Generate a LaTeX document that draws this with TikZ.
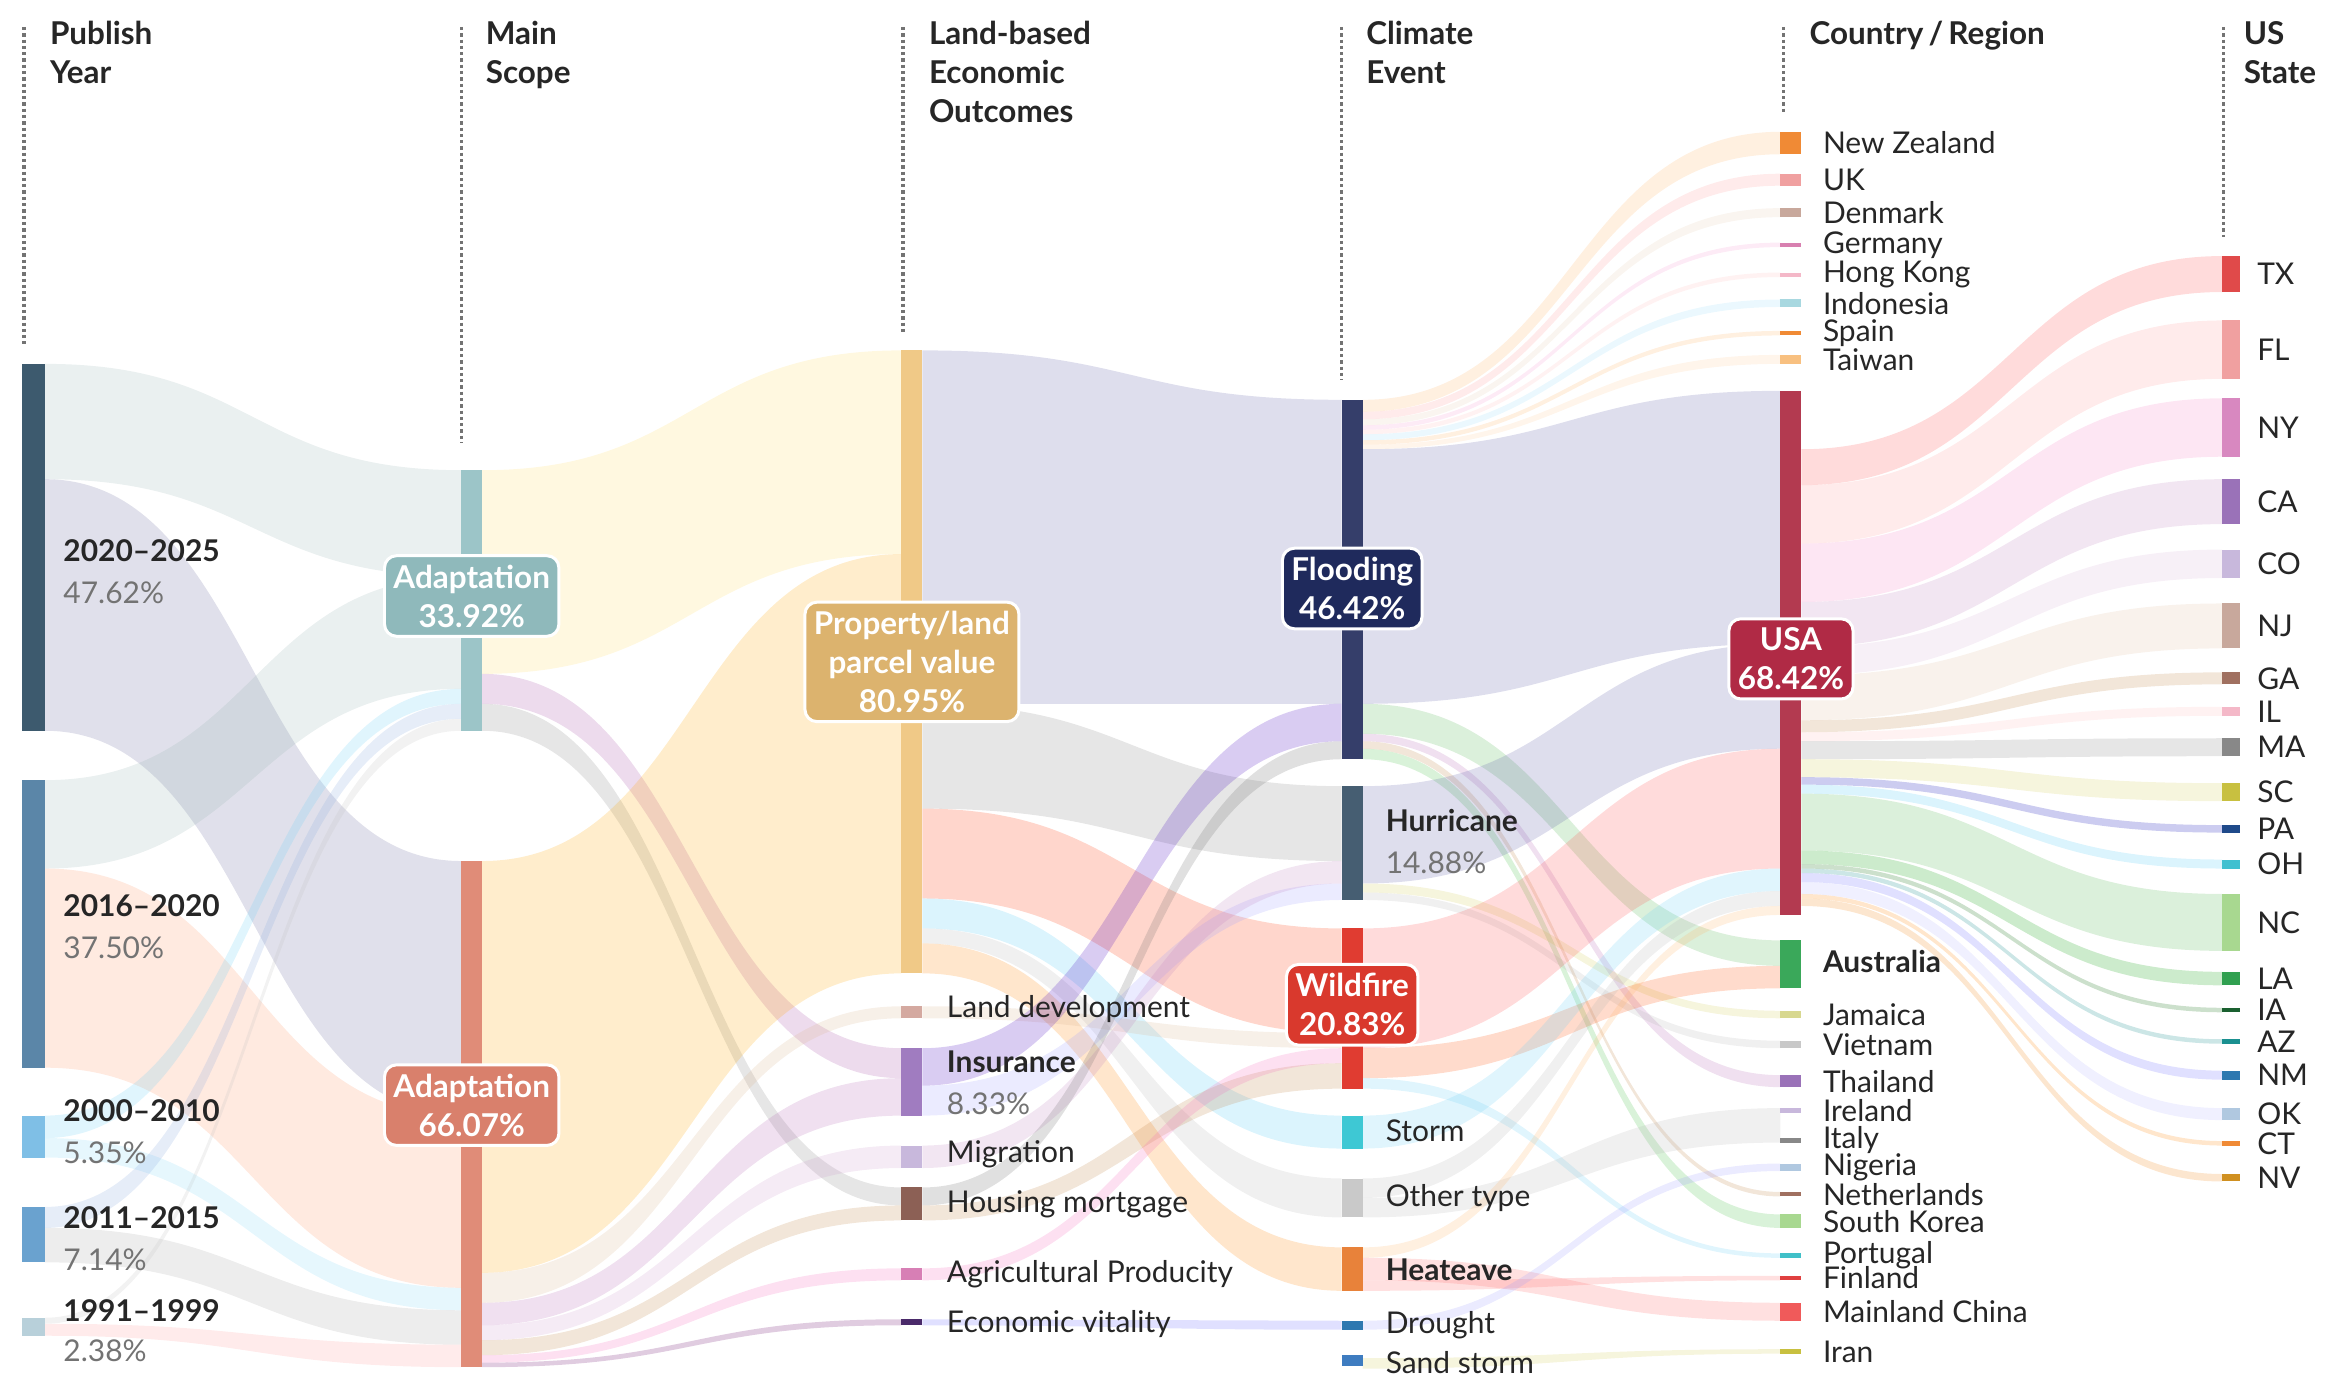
\documentclass[tikz,border=0pt]{standalone}
\usepackage{fontspec}
\setmainfont{Lato}
\begin{document}
\newcommand\flow[7]{\fill[#7,opacity=.2] (#1,#2) .. controls ({(#1+#4)/2},#2) and ({(#1+#4)/2},#5) .. (#4,#5) -- (#4,#6) .. controls ({(#1+#4)/2},#6) and ({(#1+#4)/2},#3) .. (#1,#3) -- cycle;}
\begin{tikzpicture}[x=0.5pt,y=-0.5pt,
 lab/.style={anchor=west,inner sep=0,font=\fontsize{10}{11}\selectfont,text=black!85},
 bl/.style={lab,font=\fontsize{10}{11}\selectfont\bfseries},
 pc/.style={lab,text=black!55},
 hd/.style={anchor=north west,inner sep=0,align=left,font=\fontsize{10.5}{13}\selectfont\bfseries,text=black!85},
 box/.style={draw=white,line width=1pt,rounded corners=4pt,text=white,align=center,font=\fontsize{10.5}{13}\selectfont\bfseries,inner sep=3pt},
 dl/.style={densely dotted,line width=1.1pt,black!55}]
\useasboundingbox (0,0) rectangle (1562,921);
% headers
\draw[dl] (16,18)--(16,230); \node[hd] (h1) at (33,14) {Publish\\Year};
\draw[dl] (308,18)--(308,296); \node[hd] (h2) at (324,14) {Main\\Scope};
\draw[dl] (603,18)--(603,222); \node[hd] (h3) at (620,14) {Land-based\\Economic\\Outcomes};
\draw[dl] (896,18)--(896,254); \node[hd] (h4) at (912,14) {Climate\\Event};
\draw[dl] (1191,18)--(1191,75); \node[hd] (h5) at (1208,14) {Country\,/\,Region};
\draw[dl] (1485,18)--(1485,158); \node[hd] (h6) at (1498,14) {US\\State};
% year -> scope
\flow{30}{243}{320}{308}{314}{385}{teal!40!gray!60}
\flow{30}{320}{488}{308}{575}{745}{gray!80!blue}
\flow{30}{521}{580}{308}{385}{460}{teal!40!gray!60}
\flow{30}{580}{713}{308}{745}{860}{red!40!orange!60}
\flow{30}{745}{760}{308}{460}{470}{cyan!60}
\flow{30}{760}{773}{308}{860}{875}{cyan!50}
\flow{30}{806}{820}{308}{470}{480}{cyan!50!blue!50}
\flow{30}{820}{843}{308}{875}{898}{gray!70}
\flow{30}{880}{884}{308}{480}{488}{gray!50}
\flow{30}{884}{892}{308}{898}{913}{red!40}
% scope -> land
\flow{322}{314}{450}{602}{234}{370}{yellow!60!orange!60}
\flow{322}{450}{470}{602}{700}{720}{violet!70}
\flow{322}{470}{488}{602}{793}{805}{gray}
\flow{322}{575}{850}{602}{370}{650}{orange!70!yellow}
\flow{322}{850}{870}{602}{672}{680}{brown!60}
\flow{322}{870}{885}{602}{720}{745}{violet!60}
\flow{322}{885}{895}{602}{765}{780}{violet!40}
\flow{322}{895}{905}{602}{805}{815}{brown}
\flow{322}{905}{910}{602}{847}{855}{magenta!60}
\flow{322}{910}{913}{602}{881}{885}{violet!80!black}
% land -> climate
\flow{616}{234}{470}{896}{267}{470}{blue!30!gray}
\flow{616}{470}{540}{896}{525}{575}{gray}
\flow{616}{540}{600}{896}{620}{690}{red!60!orange}
\flow{616}{600}{620}{896}{745}{767}{cyan!70}
\flow{616}{620}{630}{896}{787}{813}{gray!60}
\flow{616}{630}{650}{896}{833}{862}{orange}
\flow{616}{672}{680}{896}{690}{700}{brown!60}
\flow{616}{700}{725}{896}{470}{495}{blue!50!violet}
\flow{616}{725}{745}{896}{590}{601}{blue!40}
\flow{616}{765}{780}{896}{575}{590}{violet!50}
\flow{616}{793}{805}{896}{495}{507}{gray!80!black}
\flow{616}{805}{815}{896}{710}{727}{brown}
\flow{616}{847}{855}{896}{700}{710}{magenta!60}
\flow{616}{881}{885}{896}{882}{888}{blue!60}
% climate -> country
\flow{910}{267}{275}{1189}{88}{103}{orange!60}
\flow{910}{275}{280}{1189}{116}{124}{red!40}
\flow{910}{280}{284}{1189}{139}{145}{brown!40}
\flow{910}{284}{287}{1189}{162}{165}{magenta!40}
\flow{910}{287}{290}{1189}{182}{185}{pink}
\flow{910}{290}{294}{1189}{200}{205}{cyan!40}
\flow{910}{294}{297}{1189}{221}{224}{orange!60}
\flow{910}{297}{300}{1189}{237}{243}{orange!40}
\flow{910}{300}{470}{1189}{261}{430}{blue!30!gray}
\flow{910}{470}{490}{1189}{628}{645}{green!40!gray}
\flow{910}{490}{495}{1189}{718}{726}{violet!60}
\flow{910}{495}{500}{1189}{796}{799}{brown}
\flow{910}{500}{507}{1189}{811}{820}{green!50!gray}
\flow{910}{525}{590}{1189}{430}{500}{blue!30!gray}
\flow{910}{590}{596}{1189}{675}{680}{yellow!60!gray}
\flow{910}{596}{601}{1189}{695}{700}{gray!60}
\flow{910}{620}{700}{1189}{500}{580}{red!70}
\flow{910}{700}{720}{1189}{645}{660}{orange!60!red}
\flow{910}{720}{727}{1189}{837}{840}{cyan!60}
\flow{910}{745}{767}{1189}{580}{595}{cyan!60}
\flow{910}{787}{800}{1189}{595}{605}{gray!60}
\flow{910}{800}{813}{1189}{740}{763}{gray!60}
\flow{910}{833}{840}{1189}{605}{611}{orange!60}
\flow{910}{840}{855}{1189}{870}{882}{red!60}
\flow{910}{855}{862}{1189}{852}{855}{red!60}
\flow{910}{882}{888}{1189}{777}{782}{blue!40}
\flow{910}{907}{914}{1189}{901}{904}{yellow!60!gray}
% USA -> states
\foreach \a/\b/\c/\d/\col in {300/324/171/195/red!70,324/363/214/253/red!40,363/402/266/305/magenta!50,402/432/320/350/violet!50,432/451/367/386/violet!30,451/481/403/433/brown!50,481/489/449/457/brown,489/495/472/478/pink,495/507/493/505/gray,507/519/523/535/yellow!60!gray,519/524/551/556/blue!70!black,524/530/574/580/cyan!70,530/568/597/635/green!40!gray,568/577/649/658/green!60!black,577/580/673/676/green!40!black,580/583/694/697/teal,583/589/715/721/blue!60,589/597/740/748/blue!30,597/600/762/765/orange,600/605/784/789/orange!80!brown}{\flow{1203}{\a}{\b}{1484}{\c}{\d}{\col}}
% bars: year
\fill[fill={rgb,255:red,61;green,90;blue,110}] (15,243) rectangle (30,488);
\fill[fill={rgb,255:red,91;green,134;blue,168}] (15,521) rectangle (30,713);
\fill[fill={rgb,255:red,127;green,191;blue,230}] (15,745) rectangle (30,773);
\fill[fill={rgb,255:red,106;green,162;blue,207}] (15,806) rectangle (30,843);
\fill[fill={rgb,255:red,184;green,208;blue,218}] (15,880) rectangle (30,892);
\node[bl] (y1) at (42,368) {2020–2025}; \node[pc] (y1p) at (42,396) {47.62\%};
\node[bl] (y2) at (42,605) {2016–2020}; \node[pc] (y2p) at (42,633) {37.50\%};
\node[bl] (y3) at (42,742) {2000–2010}; \node[pc] (y3p) at (42,770) {5.35\%};
\node[bl] (y4) at (42,813) {2011–2015}; \node[pc] (y4p) at (42,841) {7.14\%};
\node[bl] (y5) at (42,875) {1991–1999}; \node[pc] (y5p) at (42,902) {2.38\%};
% scope
\fill[fill={rgb,255:red,156;green,197;blue,200}] (308,314) rectangle (322,488);
\fill[fill={rgb,255:red,224;green,140;blue,120}] (308,575) rectangle (322,913);
\node[box,fill={rgb,255:red,143;green,185;blue,187}] (s1) at (315,398) {Adaptation\\33.92\%};
\node[box,fill={rgb,255:red,217;green,128;blue,108}] (s2) at (315,738) {Adaptation\\66.07\%};
% land
\fill[fill={rgb,255:red,240;green,201;blue,135}] (602,234) rectangle (616,650);
\fill[fill={rgb,255:red,212;green,169;blue,160}] (602,672) rectangle (616,680);
\fill[fill={rgb,255:red,160;green,124;blue,192}] (602,700) rectangle (616,745);
\fill[fill={rgb,255:red,200;green,184;blue,220}] (602,765) rectangle (616,780);
\fill[fill={rgb,255:red,140;green,96;blue,85}] (602,793) rectangle (616,815);
\fill[fill={rgb,255:red,215;green,127;blue,181}] (602,847) rectangle (616,855);
\fill[fill={rgb,255:red,74;green,42;blue,106}] (602,881) rectangle (616,885);
\node[box,fill={rgb,255:red,220;green,179;blue,110}] (l1) at (609,442) {Property/land\\parcel value\\80.95\%};
\node[lab] (l2) at (632,674) {Land development};
\node[bl] (l3) at (632,709) {Insurance}; \node[pc] (l3p) at (632,737) {8.33\%};
\node[lab] (l4) at (632,771) {Migration};
\node[lab] (l5) at (632,804) {Housing mortgage};
\node[lab] (l6) at (632,851) {Agricultural Producity};
\node[lab] (l7) at (632,884) {Economic vitality};
% climate
\fill[fill={rgb,255:red,53;green,62;blue,106}] (896,267) rectangle (910,507);
\fill[fill={rgb,255:red,70;green,94;blue,114}] (896,525) rectangle (910,601);
\fill[fill={rgb,255:red,224;green,60;blue,49}] (896,620) rectangle (910,727);
\fill[fill={rgb,255:red,62;green,200;blue,212}] (896,745) rectangle (910,767);
\fill[fill={rgb,255:red,201;green,201;blue,201}] (896,787) rectangle (910,813);
\fill[fill={rgb,255:red,232;green,130;blue,58}] (896,833) rectangle (910,862);
\fill[fill={rgb,255:red,46;green,120;blue,176}] (896,882) rectangle (910,888);
\fill[fill={rgb,255:red,62;green,124;blue,192}] (896,905) rectangle (910,912);
\node[box,fill={rgb,255:red,31;green,42;blue,92}] (c1) at (903,393) {Flooding\\46.42\%};
\node[bl] (c2) at (925,548) {Hurricane}; \node[pc] (c2p) at (925,576) {14.88\%};
\node[box,fill={rgb,255:red,217;green,57;blue,45}] (c3) at (903,671) {Wildfire\\20.83\%};
\node[lab] (c4) at (925,755) {Storm};
\node[lab] (c5) at (925,800) {Other type};
\node[bl] (c6) at (925,848) {Heateave};
\node[lab] (c7) at (925,885) {Drought};
\node[lab] (c8) at (925,910) {Sand storm};
% countries
\foreach \t/\b/\r/\g/\bb/\nm [count=\i] in {88/103/240/138/53/New Zealand,116/124/240/160/160/UK,139/145/200/168/156/Denmark,162/165/216/128/176/Germany,182/185/244/184/200/Hong Kong,200/205/168/216/224/Indonesia,221/224/240/138/53/Spain,237/243/248/192/128/Taiwan,675/680/216/216/144/Jamaica,695/700/200/200/200/Vietnam,718/726/154/114/184/Thailand,740/743/200/184/220/Ireland,760/763/136/136/136/Italy,777/782/176/200/224/Nigeria,796/799/160/112/96/Netherlands,811/820/168/216/144/South Korea,837/840/64/192/200/Portugal,852/855/224/64/64/Finland,870/882/240/90/90/Mainland China,901/904/200/192/64/Iran}{
 \fill[fill={rgb,255:red,\r;green,\g;blue,\bb}] (1189,\t) rectangle (1203,\b);
 \node[lab] (k\i) at (1217,{(\t+\b)/2}) {\nm};}
\fill[fill={rgb,255:red,179;green,58;blue,80}] (1189,261) rectangle (1203,611);
\fill[fill={rgb,255:red,58;green,168;blue,90}] (1189,628) rectangle (1203,660);
\node[box,fill={rgb,255:red,176;green,42;blue,69}] (usa) at (1196,440) {USA\\68.42\%};
\node[bl] (aus) at (1217,642) {Australia};
% states
\foreach \t/\b/\r/\g/\bb/\nm [count=\i] in {171/195/224/74/74/TX,214/253/240/160/160/FL,266/305/216/136/192/NY,320/350/154/114/184/CA,367/386/200/184/220/CO,403/433/200/168/156/NJ,449/457/160/112/96/GA,472/478/244/184/200/IL,493/505/136/136/136/MA,523/535/200/192/64/SC,551/556/31/74/138/PA,574/580/64/192/208/OH,597/635/168/216/144/NC,649/658/48/160/80/LA,673/676/26/96/48/IA,694/697/26/144/144/AZ,715/721/46/120/176/NM,740/748/176/200/224/OK,762/765/240/138/53/CT,784/789/208/144/32/NV}{
 \fill[fill={rgb,255:red,\r;green,\g;blue,\bb}] (1484,\t) rectangle (1496,\b);
 \node[lab] (u\i) at (1507,{(\t+\b)/2}) {\nm};}
\end{tikzpicture}
\end{document}
